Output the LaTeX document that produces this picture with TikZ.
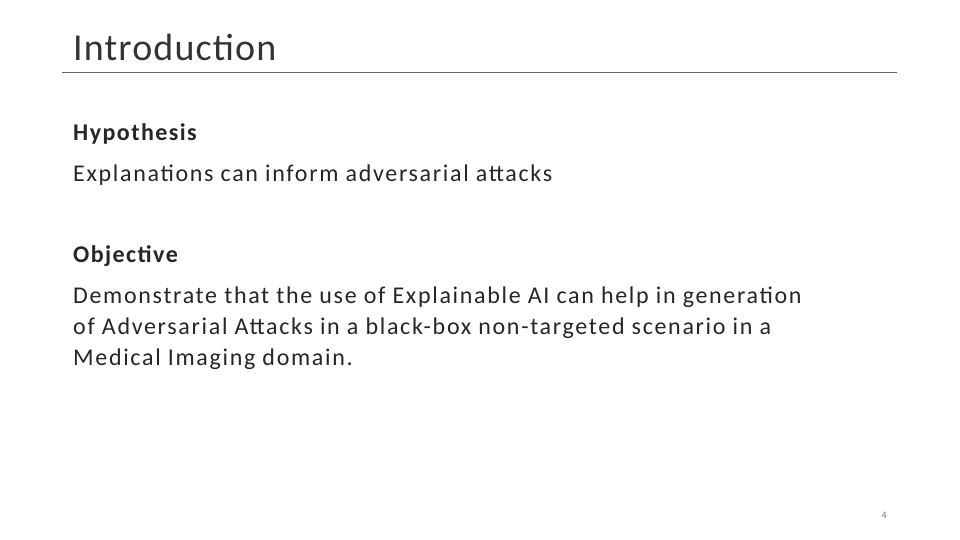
\documentclass[tikz,border=0pt]{standalone}
\usepackage{fontspec}
\setmainfont{Carlito}
\begin{document}
\begin{tikzpicture}[x=1pt,y=-1pt,
  txt/.style={anchor=base west,inner sep=0pt,font=\fontsize{24}{31}\selectfont\addfontfeature{LetterSpace=7},text=black!85},
  bold/.style={txt,font=\fontsize{24}{31}\selectfont\bfseries\addfontfeature{LetterSpace=6}}]
\useasboundingbox (0,0) rectangle (960,540);
\fill[white] (0,0) rectangle (960,540);
\node[anchor=base west,inner sep=0pt,font=\fontsize{38}{40}\selectfont\addfontfeature{LetterSpace=3},text=black!80] (title) at (73,61) {Introduction};
\coordinate (l1) at (62,72); \coordinate (l2) at (897,72);
\draw[black!60,line width=0.8pt] (l1) -- (l2);
\node[bold] (h) at (73,141) {Hypothesis};
\node[txt] (ht) at (73,182) {Explanations can inform adversarial attacks};
\node[bold] (o) at (73,262) {Objective};
\node[txt] (o1) at (73,303) {Demonstrate that the use of Explainable AI can help in generation};
\node[txt] (o2) at (73,334) {of Adversarial Attacks in a black-box non-targeted scenario in a};
\node[txt] (o3) at (73,365) {Medical Imaging domain.};
\node[anchor=base east,inner sep=0pt,font=\fontsize{10}{12}\selectfont,text=black!55] (n) at (887,518) {4};
\end{tikzpicture}
\end{document}
